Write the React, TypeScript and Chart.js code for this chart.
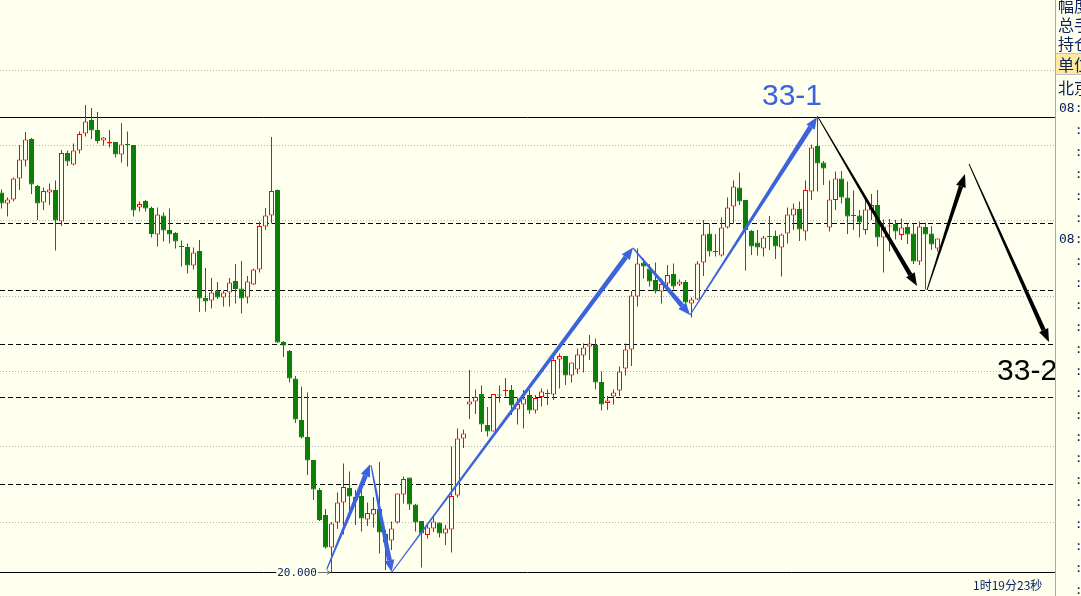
import React, { useEffect, useRef } from "react";
import { Chart, registerables } from "chart.js";

Chart.register(...registerables);

// ---- candle data (price units; 20.000 is the bottom reference line) ----
const OPEN = [
  27.59, 27.37, 27.45, 27.87, 28.23, 28.66, 27.72, 27.39, 27.59, 27.64,
  27.01, 28.38, 28.15, 28.43, 28.77, 29.04, 28.84, 28.63, 28.57, 28.60,
  28.35, 28.56, 28.54, 27.29, 27.42, 27.28, 26.75, 27.13, 26.84, 26.78,
  26.52, 26.50, 26.13, 26.42, 25.48, 25.43, 25.63, 25.49, 25.59, 25.82,
  25.67, 25.49, 25.75, 26.05, 26.91, 27.13, 27.64, 24.60, 24.42, 23.87,
  23.04, 22.70, 22.24, 21.64, 21.14, 20.49, 20.99, 21.39, 21.68, 21.50,
  21.52, 21.05, 21.15, 21.26, 20.76, 20.63, 20.99, 21.55, 21.89, 21.35,
  21.02, 20.74, 20.87, 20.99, 20.77, 20.85, 21.53, 22.67, 23.35, 23.41,
  23.56, 22.94, 22.81, 23.55, 23.62, 23.64, 23.25, 23.35, 23.54, 23.23,
  23.50, 23.58, 23.55, 24.25, 24.32, 23.93, 24.05, 24.33, 24.51, 24.54,
  23.80, 23.38, 23.51, 23.63, 24.07, 24.45, 25.51, 26.19, 26.07, 25.84,
  25.61, 25.77, 25.96, 25.75, 25.80, 25.37, 25.45, 26.19, 26.77, 26.42,
  26.33, 26.89, 27.31, 27.69, 27.44, 26.82, 26.59, 26.47, 26.72, 26.72,
  26.49, 26.77, 27.13, 27.26, 26.81, 27.61, 28.52, 28.19, 26.89, 27.44,
  27.87, 27.49, 27.14, 27.13, 26.84, 27.23, 27.34, 26.69, 26.91, 26.96,
  26.74, 26.90, 26.77, 26.21, 26.90, 26.77, 26.47,
];
const HIGH = [
  27.65, 27.49, 27.89, 28.54, 28.80, 28.68, 27.74, 27.69, 27.77, 27.83,
  28.44, 28.43, 28.57, 28.81, 29.34, 29.28, 29.20, 28.70, 28.84, 28.60,
  28.98, 28.81, 28.54, 27.41, 27.44, 27.31, 27.29, 27.19, 27.27, 26.80,
  26.63, 26.57, 26.49, 26.64, 26.08, 25.88, 25.80, 25.63, 25.88, 26.16,
  26.22, 25.92, 26.07, 27.01, 27.28, 28.70, 27.65, 24.62, 24.44, 23.92,
  23.71, 23.59, 22.24, 21.68, 21.26, 21.00, 21.59, 22.17, 22.01, 21.64,
  21.70, 21.39, 21.50, 22.20, 20.84, 21.01, 21.57, 21.91, 21.89, 21.36,
  21.02, 20.94, 21.11, 20.99, 20.94, 22.51, 22.87, 22.85, 24.04, 23.65,
  23.73, 23.30, 23.56, 23.73, 23.88, 23.74, 23.49, 23.64, 23.64, 23.54,
  23.67, 23.65, 24.31, 24.37, 24.32, 24.19, 24.47, 24.57, 24.74, 24.67,
  24.01, 23.52, 23.65, 24.11, 24.57, 25.62, 26.47, 26.27, 26.16, 26.19,
  25.87, 26.14, 26.17, 25.85, 25.84, 25.49, 26.22, 27.04, 26.97, 26.76,
  27.09, 27.49, 27.83, 27.99, 27.44, 26.84, 26.84, 26.72, 27.12, 26.83,
  26.77, 27.29, 27.37, 27.41, 27.83, 28.55, 29.12, 28.22, 27.83, 28.01,
  28.02, 27.81, 27.63, 27.24, 27.46, 27.56, 27.64, 27.05, 27.06, 27.04,
  27.07, 26.97, 26.97, 27.01, 26.99, 26.92, 26.67,
];
const LOW = [
  27.27, 27.11, 27.41, 27.64, 28.11, 27.56, 27.04, 27.24, 27.34, 26.43,
  26.92, 28.12, 28.13, 28.37, 28.71, 28.66, 28.57, 28.53, 28.49, 28.29,
  28.19, 28.11, 27.11, 27.21, 27.21, 26.69, 26.51, 26.61, 26.57, 26.47,
  26.11, 25.97, 26.05, 25.20, 25.21, 25.27, 25.46, 25.31, 25.31, 25.37,
  25.17, 25.37, 25.74, 25.99, 26.84, 26.97, 24.58, 24.30, 23.79, 22.98,
  22.67, 21.94, 21.44, 21.02, 20.47, 19.99, 20.86, 20.75, 21.21, 20.94,
  20.81, 20.92, 20.89, 20.37, 20.04, 20.44, 20.97, 21.37, 21.24, 20.81,
  20.09, 20.67, 20.80, 20.69, 20.54, 20.39, 21.49, 22.48, 23.06, 23.16,
  22.80, 22.71, 22.81, 23.39, 23.51, 23.14, 22.95, 22.87, 23.16, 23.17,
  23.31, 23.34, 23.44, 23.67, 23.74, 23.79, 23.96, 23.99, 24.24, 23.65,
  23.23, 23.24, 23.35, 23.52, 23.93, 24.12, 25.31, 25.87, 25.71, 25.57,
  25.37, 25.67, 25.65, 25.72, 25.37, 25.09, 25.44, 25.92, 26.31, 26.31,
  26.31, 26.87, 26.97, 27.34, 26.03, 26.34, 26.33, 26.31, 26.44, 26.26,
  25.91, 26.57, 26.84, 26.62, 26.63, 27.44, 27.61, 27.74, 26.81, 27.24,
  27.37, 26.76, 26.84, 26.69, 26.75, 27.04, 26.51, 25.99, 26.41, 26.65,
  26.64, 26.56, 26.16, 26.14, 25.65, 26.44, 26.41,
];
const CLOSE = [
  27.37, 27.45, 27.87, 28.25, 28.65, 27.75, 27.37, 27.62, 27.65, 27.03,
  28.38, 28.21, 28.43, 28.76, 29.01, 28.83, 28.62, 28.69, 28.60, 28.35,
  28.55, 28.54, 27.23, 27.36, 27.27, 26.76, 27.15, 26.83, 26.75, 26.61,
  26.50, 26.13, 26.39, 25.47, 25.41, 25.59, 25.49, 25.59, 25.79, 25.66,
  25.47, 25.81, 26.05, 26.92, 27.13, 27.62, 24.59, 24.53, 23.87, 23.05,
  22.69, 22.23, 21.65, 21.04, 20.49, 20.97, 21.39, 21.70, 21.51, 21.44,
  21.07, 21.18, 21.26, 20.79, 20.59, 20.87, 21.57, 21.86, 21.35, 20.99,
  20.77, 20.89, 21.01, 20.77, 20.87, 21.52, 22.67, 22.77, 23.41, 23.50,
  22.95, 22.81, 23.56, 23.53, 23.64, 23.33, 23.36, 23.47, 23.23, 23.48,
  23.61, 23.56, 24.24, 24.32, 23.93, 24.19, 24.35, 24.49, 24.57, 23.79,
  23.35, 23.43, 23.59, 24.01, 24.45, 25.53, 26.17, 26.11, 25.81, 25.61,
  25.76, 25.94, 25.71, 25.81, 25.39, 25.45, 26.17, 26.75, 26.41, 26.40,
  26.89, 27.29, 27.71, 27.41, 26.84, 26.51, 26.49, 26.69, 26.70, 26.51,
  26.75, 27.15, 27.27, 26.85, 27.64, 28.49, 28.17, 28.07, 27.45, 27.87,
  27.49, 27.11, 27.12, 26.99, 27.25, 27.34, 26.69, 26.91, 26.93, 26.81,
  26.89, 26.75, 26.21, 26.91, 26.75, 26.55, 26.67,
];

// ---- reference levels ----
const GRID_LEVELS = [21.0, 22.52, 24.02, 25.52, 27.04, 28.54, 30.04];
const DASHED_LEVELS = [21.76, 23.5, 24.56, 25.64, 26.98];
const SOLID_LEVELS = [20.0, 29.1];
const PRICE_LABEL = "20.000";
const PRICE_LABEL_VALUE = 20.0;

// ---- hand-drawn wave arrows: [fromIndex, fromPrice, toIndex, toPrice] ----
const BLUE_ARROWS = [
  [54.2, 20.05, 61.42, 22.15],
  [61.58, 22.14, 65.03, 20.0],
  [65.08, 20.0, 105.25, 26.49],
  [105.25, 26.48, 114.75, 25.14],
  [114.75, 25.14, 135.92, 29.1],
];
const BLACK_ARROWS = [
  [136.08, 29.1, 152.58, 25.72],
  [154.25, 25.64, 160.58, 27.96],
  [161.25, 28.16, 174.58, 24.6],
];
// [text, index, price(baseline), colour]
const WAVE_LABELS: [string, number, number, string][] = [
  ["33-1", 126.75, 29.34, "#3B63DC"],
  ["33-2", 165.92, 23.84, "#000000"],
];

const PANEL_ROWS = ["幅度", "总手", "持仓", "单位", "北京"];
const TIME_ROWS = [
  "08:", ":", ":", ":", ":", ":", "08:", ":", ":", ":", ":", ":",
  ":", ":", ":", ":", ":", ":", ":", ":", ":", ":", ":",
];
const TIMER_TEXT = "1时19分23秒";

const BG = "#FFFFEE";
const UP = "#FF0000";
const DOWN = "#0A800A";
const NAVY = "#0A2463";

function drawArrow(
  ctx: CanvasRenderingContext2D,
  x0: number, y0: number, x1: number, y1: number,
  w0: number, w1: number, headLen: number, headW: number, color: string
) {
  const dx = x1 - x0, dy = y1 - y0;
  const len = Math.hypot(dx, dy);
  const ux = dx / len, uy = dy / len;
  const nx = -uy, ny = ux;
  const bx = x1 - ux * headLen, by = y1 - uy * headLen;
  ctx.fillStyle = color;
  ctx.beginPath();
  ctx.moveTo(x0 + (nx * w0) / 2, y0 + (ny * w0) / 2);
  ctx.lineTo(bx + (nx * w1) / 2, by + (ny * w1) / 2);
  ctx.lineTo(bx - (nx * w1) / 2, by - (ny * w1) / 2);
  ctx.lineTo(x0 - (nx * w0) / 2, y0 - (ny * w0) / 2);
  ctx.closePath();
  ctx.fill();
  ctx.beginPath();
  ctx.moveTo(x1, y1);
  ctx.lineTo(bx + nx * headW, by + ny * headW);
  ctx.lineTo(bx - nx * headW, by - ny * headW);
  ctx.closePath();
  ctx.fill();
}

const decorPlugin = {
  id: "decor",
  beforeDraw(chart: any) {
    const ctx = chart.ctx as CanvasRenderingContext2D;
    ctx.save();
    ctx.fillStyle = BG;
    ctx.fillRect(0, 0, chart.width, chart.height);
    ctx.restore();
  },
  beforeDatasetsDraw(chart: any) {
    const ctx = chart.ctx as CanvasRenderingContext2D;
    const ys = chart.scales.y;
    const { left, right } = chart.chartArea;
    const hline = (p: number) => {
      const y = Math.round(ys.getPixelForValue(p)) + 0.5;
      ctx.beginPath();
      ctx.moveTo(left, y);
      ctx.lineTo(right, y);
      ctx.stroke();
    };
    ctx.save();
    ctx.lineWidth = 1;
    ctx.strokeStyle = "#B4B4B4";
    ctx.setLineDash([1, 2]);
    GRID_LEVELS.forEach(hline);
    ctx.strokeStyle = "#000000";
    ctx.setLineDash([5, 3]);
    DASHED_LEVELS.forEach(hline);
    ctx.setLineDash([]);
    SOLID_LEVELS.forEach(hline);
    ctx.restore();
  },
  afterDatasetsDraw(chart: any) {
    const ctx = chart.ctx as CanvasRenderingContext2D;
    const xs = chart.scales.x;
    const ys = chart.scales.y;
    ctx.save();
    BLUE_ARROWS.forEach(([a, b, c, d]) =>
      drawArrow(ctx, xs.getPixelForValue(a), ys.getPixelForValue(b), xs.getPixelForValue(c), ys.getPixelForValue(d), 1.2, 5, 12, 5, "#3B63DC")
    );
    BLACK_ARROWS.forEach(([a, b, c, d]) =>
      drawArrow(ctx, xs.getPixelForValue(a), ys.getPixelForValue(b), xs.getPixelForValue(c), ys.getPixelForValue(d), 0.9, 4.5, 13, 5, "#000000")
    );
    ctx.font = '30px "Liberation Sans", Arial, sans-serif';
    ctx.textBaseline = "alphabetic";
    ctx.textAlign = "left";
    WAVE_LABELS.forEach(([t, i, p, col]) => {
      ctx.fillStyle = col;
      ctx.fillText(t, xs.getPixelForValue(i), ys.getPixelForValue(p));
    });
    // price marker on the low line
    const ly = Math.round(ys.getPixelForValue(PRICE_LABEL_VALUE)) + 0.5;
    const lx = xs.getPixelForValue(52.58);
    ctx.font = '11px "DejaVu Sans Mono", monospace';
    const w = ctx.measureText(PRICE_LABEL).width;
    ctx.fillStyle = BG;
    ctx.fillRect(lx - w - 1, ly - 5, w + 2, 10);
    ctx.fillStyle = NAVY;
    ctx.textAlign = "right";
    ctx.textBaseline = "middle";
    ctx.fillText(PRICE_LABEL, lx, ly + 1);
    ctx.strokeStyle = "#707070";
    ctx.lineWidth = 1;
    ctx.beginPath();
    ctx.moveTo(lx + 1, ly);
    ctx.lineTo(lx + 13, ly);
    ctx.moveTo(lx + 10, ly - 2);
    ctx.lineTo(lx + 13, ly);
    ctx.lineTo(lx + 10, ly + 2);
    ctx.stroke();
    ctx.restore();
  },
};

export default function App() {
  const canvasRef = useRef<HTMLCanvasElement | null>(null);

  useEffect(() => {
    document.body.style.margin = "0";
    document.body.style.overflow = "hidden";
    const canvas = canvasRef.current;
    if (!canvas) return;
    const idx = OPEN.map((_, i) => i);
    const isUp = idx.map((i) => CLOSE[i] >= OPEN[i]);
    const lineColors = isUp.map((u) => (u ? UP : DOWN));
    const bodyFill = isUp.map((u) => (u ? BG : DOWN));
    const chart = new Chart(canvas, {
      type: "bar",
      data: {
        datasets: [
          {
            label: "wick",
            data: idx.map((i) => ({ x: i, y: [LOW[i], HIGH[i]] })) as any,
            backgroundColor: lineColors,
            borderWidth: 0,
            barThickness: 1,
            grouped: false,
            order: 2,
            inflateAmount: 0,
          } as any,
          {
            label: "body",
            data: idx.map((i) => ({ x: i, y: [OPEN[i], CLOSE[i]] })) as any,
            backgroundColor: bodyFill,
            borderColor: lineColors,
            borderWidth: 1,
            borderSkipped: false,
            barThickness: 5,
            minBarLength: 1,
            grouped: false,
            order: 1,
            inflateAmount: 0,
          } as any,
        ],
      },
      options: {
        responsive: false,
        maintainAspectRatio: false,
        animation: false,
        events: [],
        layout: { padding: { left: 0, right: 26, top: 0, bottom: 0 } },
        plugins: { legend: { display: false }, tooltip: { enabled: false } },
        scales: {
          x: { type: "linear", min: -0.25, max: 175.583, display: false, offset: false },
          y: { type: "linear", min: 19.52, max: 31.44, display: false },
        },
      } as any,
      plugins: [decorPlugin],
    });
    return () => chart.destroy();
  }, []);

  const rowTops = [-5, 14, 33, 54, 77];
  return (
    <div style={{ position: "relative", width: 1081, height: 596, background: BG, overflow: "hidden" }}>
      <canvas ref={canvasRef} width={1081} height={596} style={{ position: "absolute", left: 0, top: 0, width: 1081, height: 596 }} />
      <div style={{ position: "absolute", left: 1055, top: 0, width: 1, height: 596, background: "#A8A8A8" }} />
      <div style={{ position: "absolute", left: 1056, top: 53, width: 25, height: 20, background: "#FFE8A0", borderTop: "1px solid #C0C0C0", borderBottom: "1px solid #C0C0C0" }} />
      {PANEL_ROWS.map((t, i) => (
        <div
          key={t}
          style={{
            position: "absolute", left: 1058, top: rowTops[i], height: 20, lineHeight: "20px",
            fontFamily: '"Noto Sans CJK SC", sans-serif', fontSize: 16, color: NAVY, whiteSpace: "nowrap",
          }}
        >
          {t}
        </div>
      ))}
      {TIME_ROWS.map((t, i) => (
        <div
          key={i}
          style={{
            position: "absolute", left: 1059, top: 108 + i * 21.9 - 9, height: 18, lineHeight: "18px",
            fontFamily: '"DejaVu Sans Mono", monospace', fontSize: 13, color: NAVY, whiteSpace: "pre",
          }}
        >
          {t === ":" ? "  :" : t}
        </div>
      ))}
      <div
        style={{
          position: "absolute", left: 973, top: 577, height: 16, lineHeight: "16px",
          fontFamily: '"Noto Sans CJK SC", sans-serif', fontSize: 12, color: NAVY, whiteSpace: "nowrap",
        }}
      >
        {TIMER_TEXT}
      </div>
    </div>
  );
}
